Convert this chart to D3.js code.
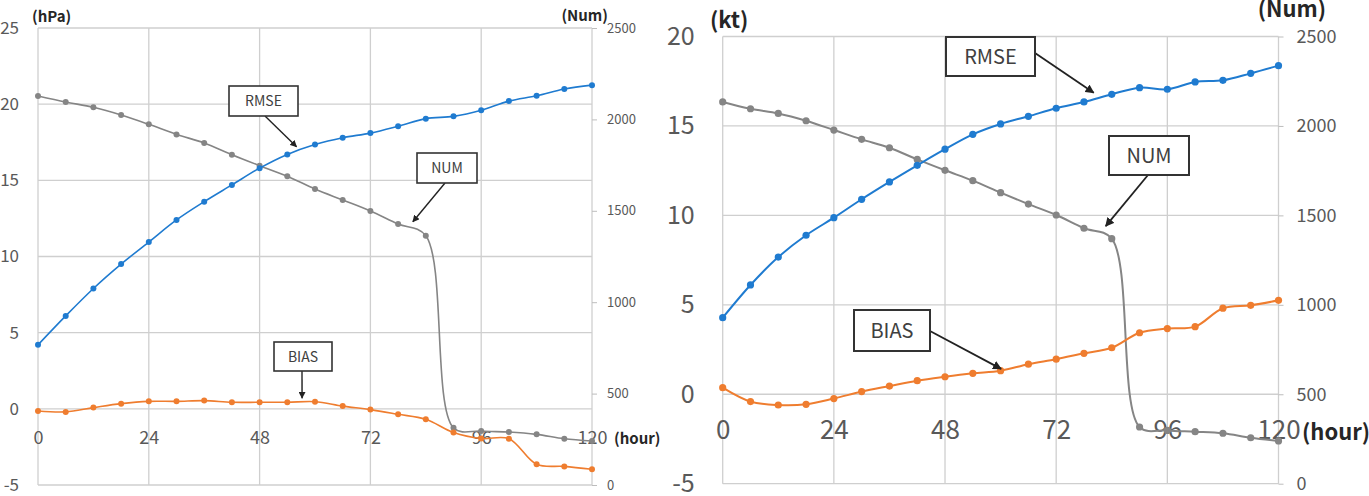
<!DOCTYPE html>
<html>
<head>
<meta charset="utf-8">
<script src="https://cdn.jsdelivr.net/npm/d3@7"></script>
<style>
  body { margin: 0; background: #fff; }
  svg { display: block; font-family: "Noto Sans CJK JP", "Noto Sans", sans-serif; }
</style>
</head>
<body>
<svg id="chart" width="1369" height="496"></svg>
<script>
// forecast hours
const hours = [0, 6, 12, 18, 24, 30, 36, 42, 48, 54, 60, 66, 72, 78, 84, 90, 96, 102, 108, 114, 120];
const hourTicks = [0, 24, 48, 72, 96, 120];
const numTicks = [0, 500, 1000, 1500, 2000, 2500];

// pressure panel (hPa)
const presTicks = [-5, 0, 5, 10, 15, 20, 25];
const presRmse = [4.2, 6.1, 7.9, 9.5, 10.95, 12.4, 13.6, 14.7, 15.8, 16.7, 17.35, 17.8, 18.1, 18.55, 19.05, 19.2, 19.6, 20.2, 20.55, 21.0, 21.25];
const presBias = [-0.14, -0.2, 0.08, 0.34, 0.49, 0.49, 0.54, 0.43, 0.43, 0.43, 0.47, 0.18, -0.05, -0.36, -0.69, -1.56, -1.95, -1.96, -3.64, -3.78, -3.97];
const presNum = [2128, 2095, 2066, 2024, 1973, 1918, 1871, 1807, 1747, 1689, 1619, 1559, 1499, 1428, 1364, 313, 295, 290, 277, 253, 241];

// wind panel (kt)
const windTicks = [-5, 0, 5, 10, 15, 20];
const windRmse = [4.28, 6.11, 7.67, 8.89, 9.87, 10.9, 11.87, 12.8, 13.7, 14.53, 15.11, 15.54, 15.99, 16.34, 16.77, 17.14, 17.05, 17.46, 17.55, 17.94, 18.37];
const windBias = [0.37, -0.41, -0.6, -0.56, -0.24, 0.15, 0.46, 0.76, 0.98, 1.17, 1.32, 1.68, 1.96, 2.29, 2.6, 3.44, 3.67, 3.78, 4.81, 4.97, 5.25];
const windNum = [2134, 2096, 2070, 2029, 1977, 1925, 1878, 1813, 1752, 1694, 1627, 1563, 1502, 1428, 1370, 317, 298, 291, 282, 257, 239];

const BLUE = '#1f7bd0';
const ORANGE = '#ef7d2f';
const GRAY = '#858585';

const plain = d => String(d); // plain hyphen minus, no thousands comma

const svg = d3.select('#chart');

svg.append('defs').append('marker')
  .attr('id', 'arrow')
  .attr('viewBox', '0 0 10 10')
  .attr('refX', 9)
  .attr('refY', 5)
  .attr('markerWidth', 5)
  .attr('markerHeight', 5)
  .attr('orient', 'auto')
  .append('path')
  .attr('d', 'M0,0 L10,5 L0,10 z')
  .attr('fill', '#222');

function drawPanel (cfg) {
  const x = d3.scaleLinear().domain([0, 120]).range([cfg.left, cfg.right]);
  const y = d3.scaleLinear().domain(cfg.yDomain).range([cfg.bottom, cfg.top]);
  const yNum = d3.scaleLinear().domain([0, 2500]).range([cfg.bottom, cfg.top]);

  const g = svg.append('g');

  // grid
  g.append('g').selectAll('line')
    .data(cfg.yTicks)
    .enter().append('line')
      .attr('x1', cfg.left).attr('x2', cfg.right)
      .attr('y1', d => y(d)).attr('y2', d => y(d))
      .attr('stroke', '#cfcfcf').attr('stroke-width', 1.3);
  g.append('g').selectAll('line')
    .data(hourTicks)
    .enter().append('line')
      .attr('x1', d => x(d)).attr('x2', d => x(d))
      .attr('y1', cfg.top).attr('y2', cfg.bottom)
      .attr('stroke', '#cfcfcf').attr('stroke-width', 1.3);

  // left axis labels
  const ax = g.append('g')
    .attr('transform', `translate(${cfg.left},0)`)
    .call(d3.axisLeft(y).tickValues(cfg.yTicks).tickFormat(plain).tickSize(0).tickPadding(cfg.leftPad));
  ax.select('.domain').remove();
  ax.selectAll('text').attr('font-size', cfg.leftFont).attr('fill', '#595959')
    .attr('font-family', '"Noto Sans CJK JP", sans-serif');

  // right axis (Num)
  const ar = g.append('g')
    .attr('transform', `translate(${cfg.right},0)`)
    .call(d3.axisRight(yNum).tickValues(numTicks).tickFormat(plain).tickSize(5).tickPadding(cfg.rightPad));
  ar.select('.domain').remove();
  ar.selectAll('line').attr('stroke', '#bdbdbd');
  ar.selectAll('text').attr('font-size', cfg.rightFont).attr('fill', '#595959')
    .attr('font-family', '"Noto Sans CJK JP", sans-serif');

  // hour labels, placed on the zero line
  const ab = g.append('g')
    .attr('transform', `translate(0,${y(0)})`)
    .call(d3.axisBottom(x).tickValues(hourTicks).tickFormat(plain).tickSize(0).tickPadding(cfg.bottomPad));
  ab.select('.domain').remove();
  ab.selectAll('text').attr('font-size', cfg.bottomFont).attr('fill', '#595959')
    .attr('font-family', '"Noto Sans CJK JP", sans-serif');

  // unit labels
  const units = [
    {t: cfg.unit, x: cfg.unitPos[0], y: cfg.unitPos[1], a: 'start'},
    {t: '(Num)', x: cfg.numPos[0], y: cfg.numPos[1], a: 'end'},
    {t: '(hour)', x: cfg.hourPos[0], y: cfg.hourPos[1], a: 'start'}
  ];
  g.selectAll('text.unit')
    .data(units)
    .enter().append('text')
      .attr('class', 'unit')
      .attr('x', d => d.x).attr('y', d => d.y)
      .attr('text-anchor', d => d.a)
      .attr('font-size', cfg.unitFont)
      .attr('font-weight', 'bold')
      .attr('fill', '#262626')
      .text(d => d.t);

  const series = [
    {vals: cfg.num, scale: yNum, color: GRAY},
    {vals: cfg.bias, scale: y, color: ORANGE},
    {vals: cfg.rmse, scale: y, color: BLUE}
  ];

  series.forEach(s => {
    const line = d3.line()
      .x((d, i) => x(hours[i]))
      .y(d => s.scale(d))
      .curve(d3.curveCatmullRom.alpha(0.5));
    g.append('path')
      .datum(s.vals)
      .attr('d', line)
      .attr('fill', 'none')
      .attr('stroke', s.color)
      .attr('stroke-width', cfg.lineW);
    g.append('g').selectAll('circle')
      .data(s.vals)
      .enter().append('circle')
        .attr('cx', (d, i) => x(hours[i]))
        .attr('cy', d => s.scale(d))
        .attr('r', cfg.dotR)
        .attr('fill', s.color);
  });

  // callouts
  cfg.notes.forEach(n => {
    const sc = n.axis === 'num' ? yNum : y;
    g.append('line')
      .attr('x1', n.from[0]).attr('y1', n.from[1])
      .attr('x2', x(n.hour)).attr('y2', sc(n.value))
      .attr('stroke', '#222')
      .attr('stroke-width', cfg.arrowW)
      .attr('marker-end', 'url(#arrow)');
    g.append('rect')
      .attr('x', n.box[0]).attr('y', n.box[1])
      .attr('width', n.box[2]).attr('height', n.box[3])
      .attr('fill', '#fff')
      .attr('stroke', '#333')
      .attr('stroke-width', cfg.boxW);
    g.append('text')
      .attr('x', n.box[0] + n.box[2] / 2)
      .attr('y', n.box[1] + n.box[3] / 2)
      .attr('dy', '0.36em')
      .attr('text-anchor', 'middle')
      .attr('font-size', cfg.noteFont)
      .attr('fill', '#404040')
      .text(n.label);
  });
}

drawPanel({
  left: 38, right: 592, top: 28, bottom: 485,
  yDomain: [-5, 25], yTicks: presTicks,
  rmse: presRmse, bias: presBias, num: presNum,
  leftPad: 19, leftFont: 17,
  rightPad: 10, rightFont: 13,
  bottomPad: 22, bottomFont: 18,
  unit: '(hPa)', unitPos: [32, 22], numPos: [608, 21], hourPos: [614, 444], unitFont: 15,
  lineW: 1.6, dotR: 3, arrowW: 1.4, boxW: 1.6, noteFont: 14,
  notes: [
    {label: 'RMSE', box: [229, 86, 69, 30], from: [265, 116], hour: 56, value: 17.2, axis: 'y'},
    {label: 'NUM', box: [417, 153, 60, 30], from: [445, 183], hour: 81.2, value: 1440, axis: 'num'},
    {label: 'BIAS', box: [274, 342, 58, 29], from: [302, 371], hour: 57.2, value: 0.7, axis: 'y'}
  ]
});

drawPanel({
  left: 722.7, right: 1278.5, top: 36.5, bottom: 483.7,
  yDomain: [-5, 20], yTicks: windTicks,
  rmse: windRmse, bias: windBias, num: windNum,
  leftPad: 28, leftFont: 25,
  rightPad: 13, rightFont: 18,
  bottomPad: 26, bottomFont: 26,
  unit: '(kt)', unitPos: [710, 28], numPos: [1326, 17], hourPos: [1302, 440], unitFont: 22,
  lineW: 2, dotR: 3.6, arrowW: 1.8, boxW: 2, noteFont: 20,
  notes: [
    {label: 'RMSE', box: [946, 37, 89, 39], from: [1035, 53], hour: 80.1, value: 16.85, axis: 'y'},
    {label: 'NUM', box: [1109, 136, 80, 39], from: [1148, 175], hour: 82.7, value: 1440, axis: 'num'},
    {label: 'BIAS', box: [854, 310, 76, 41], from: [930, 331], hour: 60.1, value: 1.42, axis: 'y'}
  ]
});
</script>
</body>
</html>
